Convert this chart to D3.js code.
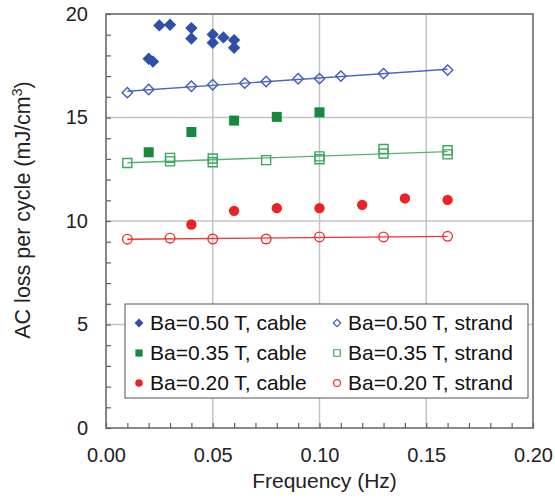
<!DOCTYPE html>
<html>
<head>
<meta charset="utf-8">
<script src="https://cdn.jsdelivr.net/npm/d3@7"></script>
<style>
  body { margin: 0; background: #fff; }
  svg { font-family: "Liberation Sans", Arial, sans-serif; }
</style>
</head>
<body>
<svg></svg>
<script>
// data
var blueCableX = [0.020, 0.022, 0.025, 0.030, 0.040, 0.040, 0.050, 0.050, 0.055, 0.060, 0.060];
var blueCableY = [17.84, 17.70, 19.45, 19.48, 19.32, 18.82, 19.01, 18.61, 18.87, 18.74, 18.37];

var blueStrandX = [0.01, 0.02, 0.04, 0.05, 0.065, 0.075, 0.09, 0.10, 0.11, 0.13, 0.16];
var blueStrandY = [16.20, 16.35, 16.51, 16.58, 16.66, 16.74, 16.87, 16.88, 17.00, 17.12, 17.29];

var greenCableX = [0.02, 0.04, 0.06, 0.08, 0.10];
var greenCableY = [13.32, 14.30, 14.85, 15.03, 15.25];

var greenStrandX = [0.01, 0.03, 0.03, 0.05, 0.05, 0.075, 0.10, 0.10, 0.13, 0.13, 0.16, 0.16];
var greenStrandY = [12.80, 13.05, 12.88, 13.02, 12.84, 12.94, 13.12, 12.98, 13.48, 13.26, 13.42, 13.22];

var redCableX = [0.04, 0.06, 0.08, 0.10, 0.12, 0.14, 0.16];
var redCableY = [9.83, 10.49, 10.62, 10.62, 10.78, 11.09, 11.02];

var redStrandX = [0.01, 0.03, 0.05, 0.075, 0.10, 0.13, 0.16];
var redStrandY = [9.12, 9.17, 9.13, 9.13, 9.23, 9.23, 9.26];

var xTicks = [0, 0.05, 0.10, 0.15, 0.20];
var yTicks = [0, 5, 10, 15, 20];
var legendLabels = ['Ba=0.50 T, cable', 'Ba=0.50 T, strand',
                    'Ba=0.35 T, cable', 'Ba=0.35 T, strand',
                    'Ba=0.20 T, cable', 'Ba=0.20 T, strand'];

var svgWidth = 555, svgHeight = 498;
var plotLeft = 106, plotRight = 533, plotTop = 14, plotBottom = 428;

var svg = d3.select('svg')
  .attr('width', svgWidth)
  .attr('height', svgHeight);

var xScale = d3.scaleLinear().domain([0, 0.2]).range([plotLeft, plotRight]);
var yScale = d3.scaleLinear().domain([0, 20]).range([plotBottom, plotTop]);

// grid
svg.append('g').selectAll('line')
  .data([0.05, 0.10, 0.15]).enter().append('line')
  .attr('x1', function(d){ return xScale(d); })
  .attr('x2', function(d){ return xScale(d); })
  .attr('y1', plotTop).attr('y2', plotBottom)
  .attr('stroke', '#c4c4c4').attr('stroke-width', 1.5);
svg.append('g').selectAll('line')
  .data([5, 10, 15]).enter().append('line')
  .attr('y1', function(d){ return yScale(d); })
  .attr('y2', function(d){ return yScale(d); })
  .attr('x1', plotLeft).attr('x2', plotRight)
  .attr('stroke', '#c4c4c4').attr('stroke-width', 1.5);

// minor ticks (inward)
var xMinor = d3.axisBottom(xScale).ticks(20).tickSize(-5).tickFormat('');
var yMinor = d3.axisLeft(yScale).ticks(20).tickSize(-5).tickFormat('');
var gx = svg.append('g').attr('transform', 'translate(0,' + plotBottom + ')').call(xMinor);
var gy = svg.append('g').attr('transform', 'translate(' + plotLeft + ',0)').call(yMinor);
[gx, gy].forEach(function(g){
  g.select('.domain').remove();
  g.selectAll('line').attr('stroke', '#606060').attr('stroke-width', 1.2);
});

// labelled axes
var xAxis = d3.axisBottom(xScale).tickValues(xTicks).tickSize(0).tickPadding(20)
  .tickFormat(d3.format('.2f'));
var yAxis = d3.axisLeft(yScale).tickValues(yTicks).tickSize(0).tickPadding(18)
  .tickFormat(d3.format('d'));
var lx = svg.append('g').attr('transform', 'translate(0,' + plotBottom + ')').call(xAxis);
var ly = svg.append('g').attr('transform', 'translate(' + plotLeft + ',0)').call(yAxis);
[lx, ly].forEach(function(g){
  g.select('.domain').remove();
  g.selectAll('text').attr('font-size', 20).attr('fill', '#222')
    .attr('font-family', '"Liberation Sans", Arial, sans-serif');
});

// trend lines (least squares over strand points)
function fit(xs, ys) {
  var mx = d3.mean(xs), my = d3.mean(ys);
  var sxy = d3.sum(xs, function(x, i){ return (x - mx) * (ys[i] - my); });
  var sxx = d3.sum(xs, function(x){ return (x - mx) * (x - mx); });
  var b = sxy / sxx, a = my - b * mx;
  var ext = d3.extent(xs);
  return ext.map(function(x){ return [x, a + b * x]; });
}
var line = d3.line()
  .x(function(d){ return xScale(d[0]); })
  .y(function(d){ return yScale(d[1]); });

var series = [
  {x: blueCableX,  y: blueCableY,  shape: 'diamond', fill: '#2f4fa8', stroke: 'none'},
  {x: blueStrandX, y: blueStrandY, shape: 'diamond', fill: 'none', stroke: '#3f5fc0', lineColor: '#4a68c4'},
  {x: greenCableX, y: greenCableY, shape: 'square', fill: '#15893c', stroke: 'none'},
  {x: greenStrandX, y: greenStrandY, shape: 'square', fill: 'none', stroke: '#3aa75c', lineColor: '#55b474'},
  {x: redCableX,   y: redCableY,   shape: 'circle', fill: '#ec2227', stroke: 'none'},
  {x: redStrandX,  y: redStrandY,  shape: 'circle', fill: 'none', stroke: '#ee3535', lineColor: '#ee3535'}
];

series.forEach(function(s){
  if (s.lineColor) {
    svg.append('path')
      .attr('d', line(fit(s.x, s.y)))
      .attr('fill', 'none')
      .attr('stroke', s.lineColor)
      .attr('stroke-width', 1.4);
  }
});

function shapePath(shape, filled, scale) {
  var k = scale || 1;
  if (shape === 'diamond') {
    var h = (filled ? 6.2 : 5.2) * k;
    return 'M0,' + (-h) + 'L' + h + ',0L0,' + h + 'L' + (-h) + ',0Z';
  }
  if (shape === 'square') {
    var s = (filled ? 5 : 4.5) * k;
    return 'M' + (-s) + ',' + (-s) + 'H' + s + 'V' + s + 'H' + (-s) + 'Z';
  }
  var r = (filled ? 5.2 : 4.8) * k;
  return 'M' + (-r) + ',0A' + r + ',' + r + ' 0 1,1 ' + r + ',0A' + r + ',' + r + ' 0 1,1 ' + (-r) + ',0Z';
}

series.forEach(function(s){
  var filled = s.fill !== 'none';
  svg.append('g').selectAll('path')
    .data(s.x.map(function(x, i){ return [x, s.y[i]]; }))
    .enter().append('path')
    .attr('d', shapePath(s.shape, filled))
    .attr('transform', function(d){ return 'translate(' + xScale(d[0]) + ',' + yScale(d[1]) + ')'; })
    .attr('fill', filled ? s.fill : '#fff')
    .attr('fill-opacity', filled ? 1 : 0)
    .attr('stroke', s.stroke)
    .attr('stroke-width', 1.4);
});

// frame
svg.append('rect')
  .attr('x', plotLeft).attr('y', plotTop)
  .attr('width', plotRight - plotLeft).attr('height', plotBottom - plotTop)
  .attr('fill', 'none').attr('stroke', '#606060').attr('stroke-width', 1.5);

// axis titles
svg.append('text')
  .attr('x', (plotLeft + plotRight) / 2 + 5).attr('y', 488)
  .attr('text-anchor', 'middle').attr('font-size', 21).attr('fill', '#222')
  .text('Frequency (Hz)');

var yt = svg.append('text')
  .attr('transform', 'translate(30,210) rotate(-90)')
  .attr('text-anchor', 'middle').attr('font-size', 21.5).attr('fill', '#222');
yt.append('tspan').text('AC loss per cycle (mJ/cm');
yt.append('tspan').attr('font-size', 14).attr('dy', -8).text('3');
yt.append('tspan').attr('dy', 8).text(')');

// legend
var lg = svg.append('g');
lg.append('rect')
  .attr('x', 125).attr('y', 304).attr('width', 403).attr('height', 94)
  .attr('fill', '#fff').attr('stroke', '#555').attr('stroke-width', 1);

series.forEach(function(s, i){
  var col = i % 2, row = Math.floor(i / 2);
  var mx = col === 0 ? 139 : 337;
  var my = 323 + row * 30;
  var filled = s.fill !== 'none';
  lg.append('path')
    .attr('d', shapePath(s.shape, filled, 0.72))
    .attr('transform', 'translate(' + mx + ',' + my + ')')
    .attr('fill', filled ? s.fill : '#fff')
    .attr('stroke', s.stroke)
    .attr('stroke-width', 1.2);
  lg.append('text')
    .attr('x', mx + 11).attr('y', my + 7)
    .attr('font-size', 21).attr('fill', '#111')
    .text(legendLabels[i]);
});
</script>
</body>
</html>
